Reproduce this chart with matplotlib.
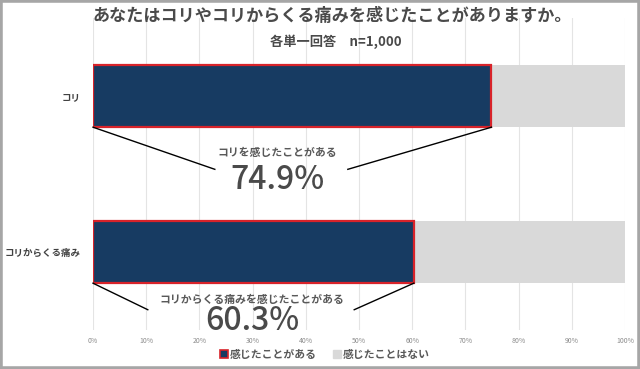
import matplotlib
matplotlib.use("Agg")
import matplotlib.pyplot as plt
from matplotlib.patches import Rectangle, Patch

plt.rcParams['font.family'] = ['Noto Sans CJK JP', 'DejaVu Sans']

# ---------------------------------------------
# DATA
# ---------------------------------------------
categories = ["コリ", "コリからくる痛み"]
felt = [74.9, 60.3]
not_felt = [100 - v for v in felt]
series_names = ["感じたことがある", "感じたことはない"]
callout_labels = ["コリを感じたことがある", "コリからくる痛みを感じたことがある"]
x_ticks = list(range(0, 101, 10))

NAVY = "#173b62"
RED = "#d8232a"
GREY = "#d9d9d9"
TEXT = "#404040"

# ---------------------------------------------
# FIGURE
# ---------------------------------------------
fig = plt.figure(figsize=(6.4, 3.69), dpi=100)
ax = fig.add_axes([93 / 640, 1 - 330 / 369, 532 / 640, 312 / 369])

y = list(range(len(categories)))
ax.barh(y, felt, height=0.4, color=NAVY, edgecolor=RED, linewidth=1.6, zorder=3)
ax.barh(y, not_felt, left=felt, height=0.4, color=GREY, linewidth=0, zorder=2)

ax.set_xlim(0, 100)
ax.set_ylim(1.5, -0.5)
ax.set_xticks(x_ticks)
ax.set_xticklabels([f"{t}%" for t in x_ticks], fontsize=5, color="#8c8c8c")
ax.set_yticks(y)
ax.set_yticklabels(categories, fontsize=6.8, fontweight="bold", color=TEXT)
ax.tick_params(axis="both", length=0)
ax.tick_params(axis="y", pad=9)
ax.tick_params(axis="x", pad=5)
ax.grid(axis="x", color="#e4e4e4", linewidth=0.8, zorder=0)
for s in ax.spines.values():
    s.set_visible(False)

# ---------------------------------------------
# CALLOUTS
# ---------------------------------------------
line_ends = [((22.9, 0.47), (47.9, 0.47)), ((10.3, 1.37), (49.1, 1.37))]
label_pos = [(34.6, 0.365, 0.54), (29.9, 1.305, 1.44)]
for i, v in enumerate(felt):
    bottom = y[i] + 0.2
    (lx, ly), (rx, ry) = line_ends[i]
    ax.plot([0, lx], [bottom, ly], color="black", linewidth=1.0, zorder=4, clip_on=False)
    ax.plot([v, rx], [bottom, ry], color="black", linewidth=1.0, zorder=4, clip_on=False)
    tx, ty1, ty2 = label_pos[i]
    ax.text(tx, ty1, callout_labels[i], ha="center", va="center", fontsize=7.8,
            fontweight="bold", color="#595959", zorder=5)
    ax.text(tx, ty2, f"{v:.1f}%", ha="center", va="center", fontsize=23,
            fontweight="medium", color="#4a4a4a", zorder=5)

# ---------------------------------------------
# TITLES, LEGEND, BORDER
# ---------------------------------------------
fig.text(332 / 640, 1 - 16 / 369, "あなたはコリやコリからくる痛みを感じたことがありますか。",
         ha="center", va="center", fontsize=12.3, fontweight="bold", color="#4a4a4a")
fig.text(336 / 640, 1 - 42 / 369, "各単一回答　n=1,000",
         ha="center", va="center", fontsize=9.5, fontweight="bold", color="#4a4a4a")

handles = [Patch(facecolor=NAVY, edgecolor=RED, linewidth=1.2),
           Patch(facecolor=GREY, edgecolor=GREY)]
fig.legend(handles, series_names, loc="center", bbox_to_anchor=(325 / 640, 1 - 355 / 369),
           ncol=2, frameon=False, handlelength=0.7, handleheight=0.7,
           handletextpad=0.2, columnspacing=1.5, labelcolor="#595959",
           prop={"weight": "bold", "size": 7.8})

fig.patches.append(Rectangle((0, 0), 1, 1, transform=fig.transFigure, fill=False,
                             edgecolor="#a6a6a6", linewidth=4))

fig.savefig("out.png", dpi=100)
